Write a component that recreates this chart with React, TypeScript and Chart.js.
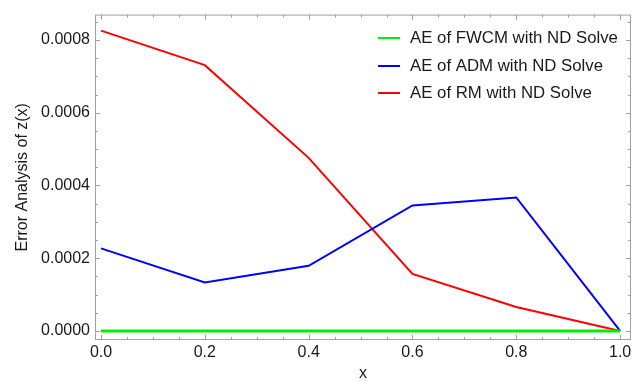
import React, { useEffect, useRef } from "react";
import { Chart, registerables } from "chart.js";

Chart.register(...registerables);

const xValues = [0, 0.2, 0.4, 0.6, 0.8, 1.0];
const fwcmErr = [0, 0, 0, 0, 0, 0];
const admErr = [0.000227, 0.000133, 0.000179, 0.000345, 0.000367, 0];
const rmErr = [0.000826, 0.000731, 0.000476, 0.000157, 0.000066, 0];
const seriesLabels = [
  "AE of FWCM with ND Solve",
  "AE of ADM with ND Solve",
  "AE of RM with ND Solve",
];
const xTicks = [0, 0.2, 0.4, 0.6, 0.8, 1.0];
const yTicks = [0, 0.0002, 0.0004, 0.0006, 0.0008];
const xMinor = [0.05, 0.1, 0.15, 0.25, 0.3, 0.35, 0.45, 0.5, 0.55, 0.65, 0.7, 0.75, 0.85, 0.9, 0.95];
const yMinor = [0.00005, 0.0001, 0.00015, 0.00025, 0.0003, 0.00035, 0.00045, 0.0005, 0.00055, 0.00065, 0.0007, 0.00075, 0.00085];

const FONT = "'Liberation Sans', Arial, sans-serif";

const framePlugin = {
  id: "frameTicks",
  afterDatasetsDraw(chart: any) {
    const { ctx, chartArea: a, scales } = chart;
    const xs = scales.x;
    const ys = scales.y;
    ctx.save();
    ctx.strokeStyle = "#a0a0a0";
    ctx.lineWidth = 1;
    ctx.strokeRect(a.left + 0.5, a.top + 0.5, a.right - a.left - 1, a.bottom - a.top - 1);
    ctx.beginPath();
    const tickX = (vals: number[], len: number) => {
      vals.forEach((v) => {
        const px = Math.round(xs.getPixelForValue(v)) + 0.5;
        ctx.moveTo(px, a.bottom);
        ctx.lineTo(px, a.bottom - len);
        ctx.moveTo(px, a.top);
        ctx.lineTo(px, a.top + len);
      });
    };
    const tickY = (vals: number[], len: number) => {
      vals.forEach((v) => {
        const py = Math.round(ys.getPixelForValue(v)) + 0.5;
        ctx.moveTo(a.left, py);
        ctx.lineTo(a.left + len, py);
        ctx.moveTo(a.right, py);
        ctx.lineTo(a.right - len, py);
      });
    };
    tickX(xTicks, 5);
    tickX(xMinor, 3);
    tickY(yTicks, 5);
    tickY(yMinor, 3);
    ctx.stroke();

    // legend
    const rows = [38, 66, 93];
    chart.data.datasets.forEach((ds: any, i: number) => {
      const y = rows[i];
      ctx.strokeStyle = ds.borderColor;
      ctx.lineWidth = 2;
      ctx.beginPath();
      ctx.moveTo(378, y);
      ctx.lineTo(400, y);
      ctx.stroke();
      ctx.fillStyle = "#1a1a1a";
      ctx.font = `16.8px ${FONT}`;
      ctx.textBaseline = "middle";
      ctx.textAlign = "left";
      ctx.fillText(ds.label, 410, y);
    });
    ctx.restore();
  },
};

export default function App() {
  const ref = useRef<HTMLCanvasElement>(null);
  useEffect(() => {
    document.body.style.margin = "0";
    const canvas = ref.current!;
    const mk = (ys: number[]) => xValues.map((x, i) => ({ x, y: ys[i] }));
    const chart = new Chart(canvas, {
      type: "line",
      data: {
        datasets: [
          { label: seriesLabels[0], data: mk(fwcmErr), borderColor: "#00ee00", borderWidth: 3, pointRadius: 0, tension: 0 },
          { label: seriesLabels[1], data: mk(admErr), borderColor: "#0000ff", borderWidth: 2, pointRadius: 0, tension: 0 },
          { label: seriesLabels[2], data: mk(rmErr), borderColor: "#ff0000", borderWidth: 2, pointRadius: 0, tension: 0 },
        ],
      },
      options: {
        responsive: false,
        animation: false,
        layout: { padding: { top: 6, right: 11, left: 0, bottom: 0 } },
        plugins: { legend: { display: false }, tooltip: { enabled: false } },
        scales: {
          x: {
            type: "linear",
            min: -0.0116,
            max: 1.021,
            grid: { display: false, drawTicks: false },
            border: { display: false },
            afterBuildTicks: (s: any) => {
              s.ticks = xTicks.map((v) => ({ value: v }));
            },
            afterFit: (s: any) => {
              s.height = 45;
            },
            ticks: {
              padding: 3,
              color: "#1a1a1a",
              font: { family: FONT, size: 16 },
              maxRotation: 0,
              autoSkip: false,
              callback: (v: any) => Number(v).toFixed(1),
            },
            title: {
              display: true,
              text: "x",
              color: "#1a1a1a",
              font: { family: FONT, size: 16 },
              padding: { top: 0, bottom: 2 },
            },
          },
          y: {
            type: "linear",
            min: -0.000025,
            max: 0.00087,
            grid: { display: false, drawTicks: false },
            border: { display: false },
            afterBuildTicks: (s: any) => {
              s.ticks = yTicks.map((v) => ({ value: v }));
            },
            afterFit: (s: any) => {
              s.width = 95;
            },
            ticks: {
              padding: 5,
              color: "#1a1a1a",
              font: { family: FONT, size: 16 },
              autoSkip: false,
              callback: (v: any) => Number(v).toFixed(4),
            },
            title: {
              display: true,
              text: "Error Analysis of z(x)",
              color: "#1a1a1a",
              font: { family: FONT, size: 16 },
              padding: { top: 13, bottom: 0 },
            },
          },
        },
      },
      plugins: [framePlugin],
    } as any);
    return () => chart.destroy();
  }, []);
  return (
    <div style={{ width: 642, height: 385 }}>
      <canvas ref={ref} width={642} height={385} />
    </div>
  );
}
